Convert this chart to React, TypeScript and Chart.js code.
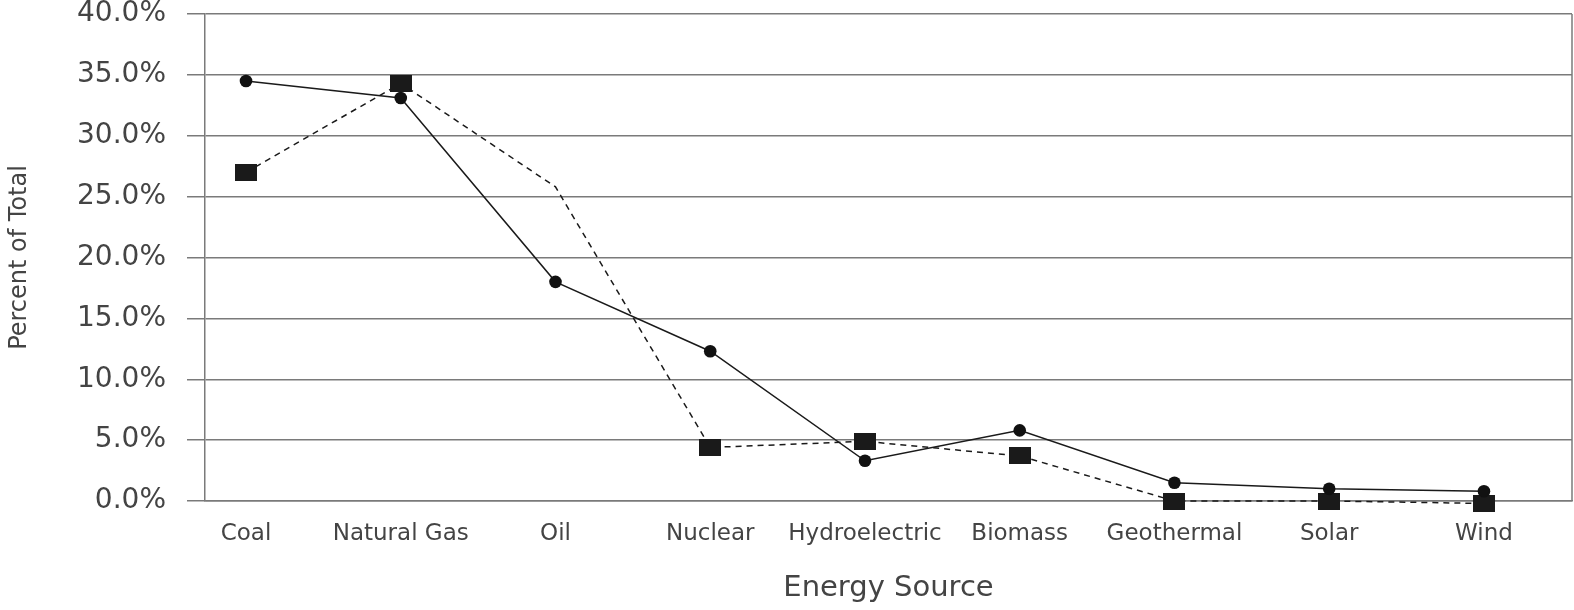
import React, { useEffect, useRef } from 'react';
import { Chart, registerables } from 'chart.js';

Chart.register(...registerables);

const categories = ['Coal', 'Natural Gas', 'Oil', 'Nuclear', 'Hydroelectric', 'Biomass', 'Geothermal', 'Solar', 'Wind'];
const seriesSolid = [34.5, 33.1, 18.0, 12.3, 3.3, 5.8, 1.5, 1.0, 0.8];
const seriesDashed = [27.0, 34.3, 25.8, 4.4, 4.9, 3.7, 0.0, 0.0, -0.2];
const yTickValues = [0, 5, 10, 15, 20, 25, 30, 35, 40];
const xTitle = 'Energy Source';
const yTitle = 'Percent of Total';

const FONT = "'DejaVu Sans', sans-serif";
const TEXT = '#444';
const GRID = '#7a7a7a';

function makeRect(w: number, h: number, color: string) {
  const c = document.createElement('canvas');
  c.width = w;
  c.height = h;
  const g = c.getContext('2d')!;
  g.fillStyle = color;
  g.fillRect(0, 0, w, h);
  return c;
}

const frameRight = {
  id: 'frameRight',
  afterDraw(chart: any) {
    const { ctx, chartArea } = chart;
    ctx.save();
    ctx.strokeStyle = GRID;
    ctx.lineWidth = 1.5;
    ctx.beginPath();
    ctx.moveTo(chartArea.right, chartArea.top);
    ctx.lineTo(chartArea.right, chartArea.bottom);
    ctx.stroke();
    ctx.restore();
  },
};

export default function App() {
  const ref = useRef<HTMLCanvasElement | null>(null);

  useEffect(() => {
    if (!ref.current) return;
    const square = makeRect(22, 17, '#1a1a1a');
    const chart = new Chart(ref.current, {
      type: 'line',
      data: {
        datasets: [
          {
            label: 'Solid',
            data: categories.map((_, i) => ({ x: i, y: seriesSolid[i] })),
            borderColor: '#1a1a1a',
            backgroundColor: '#1a1a1a',
            borderWidth: 1.5,
            pointStyle: 'circle',
            pointRadius: 6.3,
            pointBackgroundColor: '#111',
            pointBorderWidth: 0,
            tension: 0,
            clip: false,
          },
          {
            label: 'Dashed',
            data: categories.map((_, i) => ({ x: i, y: seriesDashed[i] })),
            borderColor: '#1a1a1a',
            backgroundColor: '#1a1a1a',
            borderWidth: 1.5,
            borderDash: [6, 5],
            pointStyle: square as any,
            pointRadius: (c: any) => (c.dataIndex === 2 ? 0 : 8),
            pointBorderWidth: 0,
            tension: 0,
            clip: false,
          },
        ],
      },
      options: {
        responsive: false,
        animation: false,
        events: [],
        layout: { autoPadding: false, padding: { top: 0, right: 2, left: 0, bottom: 0 } },
        plugins: {
          legend: { display: false },
          tooltip: { enabled: false },
        },
        scales: {
          x: {
            type: 'linear',
            min: -0.265,
            max: 8.569,
            afterBuildTicks: (scale: any) => {
              scale.ticks = categories.map((_, i) => ({ value: i }));
            },
            afterFit: (scale: any) => {
              scale.height = 109;
              scale.paddingLeft = 0;
              scale.paddingRight = 0;
            },
            grid: { display: false, drawTicks: false },
            border: { display: true, color: GRID, width: 1.5 },
            ticks: {
              autoSkip: false,
              maxRotation: 0,
              padding: 19,
              color: TEXT,
              font: { family: FONT, size: 23 },
              callback: (v: any) => categories[v] ?? '',
            },
            title: {
              display: true,
              text: xTitle,
              color: TEXT,
              font: { family: FONT, size: 29 },
              padding: { top: 0, bottom: 4 },
            },
          },
          y: {
            min: 0,
            max: 40,
            afterBuildTicks: (scale: any) => {
              scale.ticks = yTickValues.map((v) => ({ value: v }));
            },
            afterFit: (scale: any) => {
              scale.width = 205;
              scale.paddingTop = 14;
              scale.paddingBottom = 0;
            },
            grid: {
              color: GRID,
              lineWidth: 1.5,
              tickLength: 18,
              tickColor: GRID,
              drawTicks: true,
            },
            border: { display: true, color: GRID, width: 1.5 },
            ticks: {
              padding: 21,
              color: TEXT,
              font: { family: FONT, size: 28 },
              callback: (v: any) => Number(v).toFixed(1) + '%',
            },
            title: {
              display: true,
              text: yTitle,
              color: TEXT,
              font: { family: FONT, size: 24 },
              padding: { top: 5, bottom: 0 },
            },
          },
        },
      },
      plugins: [frameRight],
    } as any);
    return () => chart.destroy();
  }, []);

  return (
    <div style={{ position: 'absolute', left: 0, top: 0, width: 1574, height: 610, background: '#fff' }}>
      <canvas ref={ref} width={1574} height={610} style={{ display: 'block' }} />
    </div>
  );
}
